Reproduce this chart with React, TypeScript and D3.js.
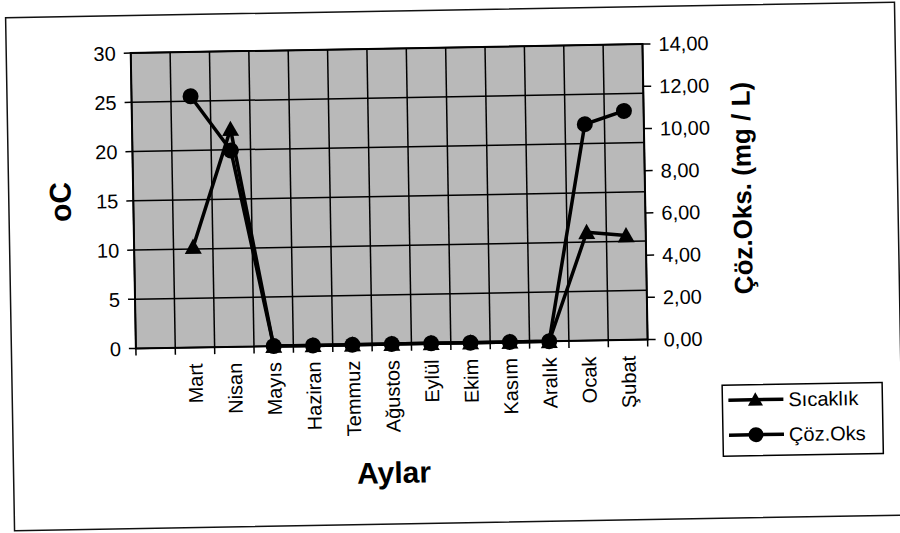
import React from "react";
import * as d3 from "d3";

// ---- data ----
const categories: string[] = ["", "Mart", "Nisan", "Mayıs", "Haziran", "Temmuz", "Ağustos", "Eylül", "Ekim", "Kasım", "Aralık", "Ocak", "Şubat"];
const months: string[] = ["Mart", "Nisan", "Mayıs", "Haziran", "Temmuz", "Ağustos", "Eylül", "Ekim", "Kasım", "Aralık", "Ocak", "Şubat"];
const sicaklik: number[] = [10.2, 22.1, 0, 0, 0, 0, 0, 0, 0, 0, 11.0, 10.6];
const cozOks: number[] = [11.9, 9.3, 0, 0, 0, 0, 0, 0, 0, 0, 10.25, 10.85];
const leftTicks: number[] = [0, 5, 10, 15, 20, 25, 30];
const rightTicks: number[] = [0, 2, 4, 6, 8, 10, 12, 14];
const seriesNames: string[] = ["Sıcaklık", "Çöz.Oks"];
const leftTitle = "oC";
const rightTitle = "Çöz.Oks. (mg / L)";
const xTitle = "Aylar";

const FONT = "'Liberation Sans', Arial, Helvetica, sans-serif";

export default function App() {
  const W = 900, H = 533;
  const plot = { left: 134.5, top: 47.5, right: 646.3, bottom: 343 };

  const x = d3.scaleBand<string>().domain(categories).range([plot.left, plot.right]).paddingInner(0).paddingOuter(0);
  const yL = d3.scaleLinear().domain([0, 30]).range([plot.bottom, plot.top]);
  const yR = d3.scaleLinear().domain([0, 14]).range([plot.bottom, plot.top]);
  const bw = x.bandwidth();
  const cx = (m: string) => (x(m) as number) + bw / 2;

  const line = d3.line<[number, number]>().x(d => d[0]).y(d => d[1]);
  const tPts: [number, number][] = months.map((m, i) => [cx(m), yL(sicaklik[i])]);
  const oPts: [number, number][] = months.map((m, i) => [cx(m), yR(cozOks[i])]);

  const tri = (px: number, py: number, s = 8.5) =>
    `M${px},${py - s}L${px + s},${py + s * 0.8}L${px - s},${py + s * 0.8}Z`;

  const boundaries = categories.map(c => x(c) as number).concat([plot.right]);
  const fmt = (v: number) => v.toFixed(2).replace(".", ",");

  const legendY = [405, 440];

  return (
    <svg width={W} height={H} style={{ position: "absolute", left: 0, top: 0, background: "#fff" }} fontFamily={FONT}>
      <rect x={0} y={0} width={W} height={H} fill="#fff" />
      <g transform="rotate(-1, 450, 266)">
        {/* outer frame */}
        <rect x={10} y={10} width={889} height={513} fill="none" stroke="#111" strokeWidth={1.5} />

        {/* plot area */}
        <rect x={plot.left} y={plot.top} width={plot.right - plot.left} height={plot.bottom - plot.top} fill="#b9b9b9" />
        {/* horizontal gridlines */}
        {leftTicks.map(t => (
          <line key={"hg" + t} x1={plot.left} x2={plot.right} y1={yL(t)} y2={yL(t)} stroke="#000" strokeWidth={1.5} />
        ))}
        {/* vertical gridlines */}
        {boundaries.map((b, i) => (
          <line key={"vg" + i} x1={b} x2={b} y1={plot.top} y2={plot.bottom} stroke="#000" strokeWidth={1.5} />
        ))}
        <rect x={plot.left} y={plot.top} width={plot.right - plot.left} height={plot.bottom - plot.top} fill="none" stroke="#000" strokeWidth={2} />

        {/* x ticks */}
        {boundaries.map((b, i) => (
          <line key={"xt" + i} x1={b} x2={b} y1={plot.bottom} y2={plot.bottom + 7} stroke="#000" strokeWidth={1.5} />
        ))}
        {/* left ticks & labels */}
        {leftTicks.map(t => (
          <g key={"lt" + t}>
            <line x1={plot.left - 7} x2={plot.left} y1={yL(t)} y2={yL(t)} stroke="#000" strokeWidth={1.5} />
            <text x={plot.left - 15} y={yL(t)} dy="0.36em" textAnchor="end" fontSize={20} fill="#000">{t}</text>
          </g>
        ))}
        {/* right ticks & labels */}
        {rightTicks.map(t => (
          <g key={"rt" + t}>
            <line x1={plot.right} x2={plot.right + 8} y1={yR(t)} y2={yR(t)} stroke="#000" strokeWidth={1.5} />
            <text x={plot.right + 16} y={yR(t)} dy="0.36em" textAnchor="start" fontSize={20} fill="#000">{fmt(t)}</text>
          </g>
        ))}
        {/* category labels */}
        {months.map(m => (
          <text key={"cl" + m} transform={`translate(${cx(m)},${plot.bottom + 16}) rotate(-90)`} dy="0.36em" textAnchor="end" fontSize={20} fill="#000">{m}</text>
        ))}

        {/* axis titles */}
        <text transform={`translate(61,${(plot.top + plot.bottom) / 2}) rotate(-90)`} dy="0.36em" textAnchor="middle" fontSize={30} fontWeight="bold" fill="#000">{leftTitle}</text>
        <text transform={`translate(743,${(plot.top + plot.bottom) / 2 - 2}) rotate(-90)`} dy="0.36em" textAnchor="middle" fontSize={26} fontWeight="bold" fill="#000">{rightTitle}</text>
        <text x={(plot.left + plot.right) / 2} y={482} textAnchor="middle" fontSize={30} fontWeight="bold" fill="#000">{xTitle}</text>

        {/* series: Sıcaklık */}
        <path d={line(tPts) || ""} fill="none" stroke="#000" strokeWidth={3.5} strokeLinejoin="round" />
        {tPts.map((p, i) => <path key={"tm" + i} d={tri(p[0], p[1])} fill="#000" />)}
        {/* series: Çöz.Oks */}
        <path d={line(oPts) || ""} fill="none" stroke="#000" strokeWidth={3.5} strokeLinejoin="round" />
        {oPts.map((p, i) => <circle key={"om" + i} cx={p[0]} cy={p[1]} r={8} fill="#000" />)}

        {/* legend */}
        <rect x={720} y={390} width={160} height={71} fill="#fff" stroke="#000" strokeWidth={1.5} />
        {seriesNames.map((n, i) => (
          <g key={"lg" + n}>
            <line x1={726} x2={781} y1={legendY[i]} y2={legendY[i]} stroke="#000" strokeWidth={3.5} />
            {i === 0 ? <path d={tri(753, legendY[i], 7.5)} fill="#000" /> : <circle cx={753} cy={legendY[i]} r={7.5} fill="#000" />}
            <text x={786} y={legendY[i]} dy="0.36em" fontSize={20} fill="#000">{n}</text>
          </g>
        ))}
      </g>
    </svg>
  );
}
